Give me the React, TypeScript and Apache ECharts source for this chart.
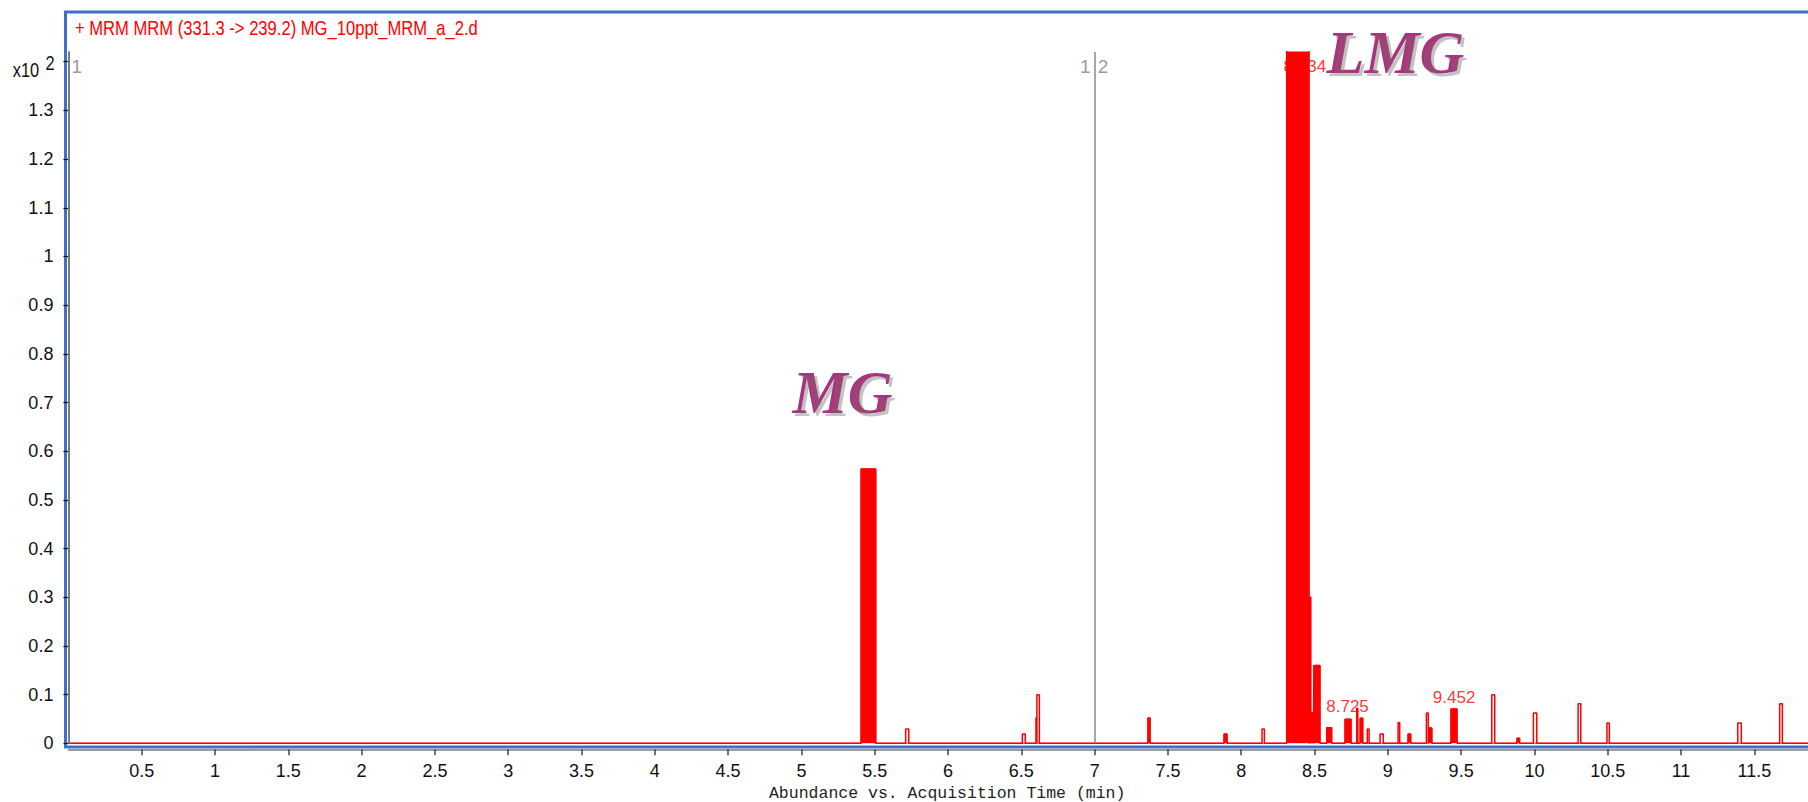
import React, { useEffect, useRef } from 'react';
import * as echarts from 'echarts';

// ---- Data (time in min, abundance in x10^2 counts) ----
const peakStart = [5.407, 5.711, 6.507, 6.600, 6.606, 7.364, 7.883, 8.142, 8.310, 8.462, 8.474, 8.496, 8.583, 8.708, 8.788, 8.811, 8.860, 8.947, 9.070, 9.138, 9.263, 9.278, 9.431, 9.709, 9.881, 9.993, 10.298, 10.495, 11.387, 11.673];
const peakEnd = [5.507, 5.732, 6.527, 6.606, 6.623, 7.378, 7.903, 8.158, 8.462, 8.474, 8.492, 8.537, 8.617, 8.749, 8.795, 8.829, 8.872, 8.969, 9.081, 9.156, 9.276, 9.300, 9.472, 9.729, 9.899, 10.016, 10.316, 10.511, 11.411, 11.691];
const peakHeight = [0.5635, 0.0295, 0.019, 0.052, 0.0996, 0.052, 0.019, 0.0295, 1.6, 0.30, 0.0625, 0.16, 0.032, 0.0495, 0.072, 0.0515, 0.0295, 0.019, 0.0425, 0.019, 0.062, 0.0315, 0.0707, 0.0996, 0.0103, 0.062, 0.081, 0.0419, 0.0419, 0.081];
const peakSolid = [1, 0, 0, 0, 0, 1, 1, 0, 1, 1, 1, 1, 1, 1, 0, 1, 0, 0, 0, 1, 0, 1, 1, 0, 1, 0, 0, 0, 0, 0];

const labelTexts = ['8.434', '8.725', '9.452'];
const labelTimes = [8.434, 8.725, 9.452];
const labelLevels = [1.39, 0.0755, 0.0934];

const annotationTexts = ['MG', 'LMG'];
const annotationTimes = [5.28, 9.052];
const annotationLevels = [0.7225, 1.42];

const segmentTimes = [0, 7];
const segmentLeftTexts = ['', '1'];
const segmentRightTexts = ['1', '2'];
const segmentLabelLevel = 1.39;

const xTickValues = [0.5, 1, 1.5, 2, 2.5, 3, 3.5, 4, 4.5, 5, 5.5, 6, 6.5, 7, 7.5, 8, 8.5, 9, 9.5, 10, 10.5, 11, 11.5];
const yTickValues = [0, 0.1, 0.2, 0.3, 0.4, 0.5, 0.6, 0.7, 0.8, 0.9, 1, 1.1, 1.2, 1.3, 1.4];
const yLabelValues = [0, 0.1, 0.2, 0.3, 0.4, 0.5, 0.6, 0.7, 0.8, 0.9, 1, 1.1, 1.2, 1.3];

const X_MAX = 11.866;
const Y_MAX = 1.42;

const TITLE = '+ MRM MRM (331.3 -> 239.2) MG_10ppt_MRM_a_2.d';
const X_NAME = 'Abundance vs. Acquisition Time (min)';

const SANS = "'Liberation Sans', Arial, Helvetica, sans-serif";

function buildTrace(onlySolid: boolean): number[][] {
  const pts: number[][] = [[0, 0]];
  for (let i = 0; i < peakStart.length; i++) {
    if (onlySolid && !peakSolid[i]) continue;
    pts.push([peakStart[i], 0], [peakStart[i], peakHeight[i]], [peakEnd[i], peakHeight[i]], [peakEnd[i], 0]);
  }
  pts.push([X_MAX, 0]);
  return pts;
}

const fmt = (v: number) => String(Math.round(v * 10) / 10);

export default function App() {
  const ref = useRef<HTMLDivElement>(null);
  useEffect(() => {
    if (!ref.current) return;
    const chart = echarts.init(ref.current, undefined, { renderer: 'svg' });
    chart.setOption({
      animation: false,
      backgroundColor: '#ffffff',
      grid: { left: 68.4, right: 0, top: 52, bottom: 58.7, containLabel: false, outerBoundsMode: 'none' },
      xAxis: {
        type: 'value',
        min: 0,
        max: X_MAX,
        offset: 6,
        axisLine: { show: true, onZero: false, lineStyle: { color: '#7a7a7a', width: 1.5 } },
        axisTick: { show: true, length: 6, customValues: xTickValues, lineStyle: { color: '#444', width: 1.5 } },
        axisLabel: { customValues: xTickValues, margin: 13, fontSize: 18, color: '#111', fontFamily: SANS, formatter: (v: number) => fmt(v) },
        splitLine: { show: false },
        name: X_NAME,
        nameLocation: 'middle',
        nameGap: 35,
        nameTextStyle: { fontFamily: "'Liberation Mono', 'DejaVu Sans Mono', monospace", fontSize: 16.5, color: '#222', padding: [0, 0, 0, 18] },
      },
      yAxis: {
        type: 'value',
        min: 0,
        max: Y_MAX,
        offset: 5,
        axisLine: { show: true, lineStyle: { color: '#111', width: 1.5 } },
        axisTick: { show: true, length: 5, customValues: yTickValues, lineStyle: { color: '#111', width: 1.2 } },
        axisLabel: { customValues: yLabelValues, margin: 10, fontSize: 18, color: '#111', fontFamily: SANS, formatter: (v: number) => fmt(v) },
        splitLine: { show: false },
      },
      graphic: [
        { type: 'rect', z: 0, silent: true, shape: { x: 65.5, y: 12, width: 1800, height: 735 }, style: { fill: 'none', stroke: '#3f6fc6', lineWidth: 3 } },
        { type: 'text', z: 10, x: 75, y: 27.5, scaleX: 0.83, style: { text: TITLE, fill: '#ff0000', fontSize: 20, fontFamily: SANS, verticalAlign: 'middle', align: 'left' } },
        { type: 'text', z: 10, x: 12.7, y: 70, scaleX: 0.82, style: { text: 'x10', fill: '#111', fontSize: 20, fontFamily: SANS, verticalAlign: 'middle', align: 'left' } },
        { type: 'text', z: 10, x: 45.5, y: 63, scaleX: 0.82, style: { text: '2', fill: '#111', fontSize: 20, fontFamily: SANS, verticalAlign: 'middle', align: 'left' } },
      ],
      series: [
        {
          name: 'trace',
          type: 'line',
          z: 3,
          data: buildTrace(false),
          showSymbol: false,
          symbol: 'none',
          lineStyle: { color: '#ff0000', width: 1.5 },
          markLine: {
            silent: true,
            symbol: 'none',
            label: { show: false },
            lineStyle: { color: '#8a8a8a', width: 1.5, type: 'solid' },
            data: segmentTimes.map((t) => ({ xAxis: t })),
          },
        },
        {
          name: 'solid',
          type: 'line',
          z: 4,
          data: buildTrace(true),
          showSymbol: false,
          symbol: 'none',
          lineStyle: { color: '#ff0000', width: 1 },
          areaStyle: { color: '#ff0000', opacity: 1 },
        },
        {
          name: 'peakLabels',
          type: 'scatter',
          z: 1,
          symbolSize: 0,
          data: labelTimes.map((t, i) => [t, labelLevels[i]]),
          label: { show: true, position: 'inside', formatter: (p: any) => labelTexts[p.dataIndex], color: '#ff0000', fontSize: 17, fontFamily: SANS },
        },
        {
          name: 'annotations',
          type: 'scatter',
          z: 6,
          clip: false,
          symbolSize: 0,
          data: annotationTimes.map((t, i) => [t, annotationLevels[i]]),
          label: {
            show: true,
            position: 'inside',
            formatter: (p: any) => annotationTexts[p.dataIndex],
            color: '#930060',
            fontSize: 62,
            fontWeight: 'bold',
            fontStyle: 'italic',
            fontFamily: "'Liberation Serif', 'Times New Roman', serif",
            textShadowColor: 'rgba(140,140,140,0.65)',
            textShadowBlur: 1.5,
            textShadowOffsetX: 3,
            textShadowOffsetY: 3,
          },
        },
        {
          name: 'segLeft',
          type: 'scatter',
          z: 5,
          symbolSize: 0,
          data: segmentTimes.map((t) => [t, segmentLabelLevel]),
          label: { show: true, position: 'left', distance: 4, formatter: (p: any) => segmentLeftTexts[p.dataIndex], color: '#808080', fontSize: 19, fontFamily: SANS },
        },
        {
          name: 'segRight',
          type: 'scatter',
          z: 5,
          symbolSize: 0,
          data: segmentTimes.map((t) => [t, segmentLabelLevel]),
          label: { show: true, position: 'right', distance: 3, formatter: (p: any) => segmentRightTexts[p.dataIndex], color: '#808080', fontSize: 19, fontFamily: SANS },
        },
      ],
    });
    return () => chart.dispose();
  }, []);
  return <div ref={ref} style={{ position: 'absolute', left: 0, top: 0, width: 1808, height: 802 }} />;
}
